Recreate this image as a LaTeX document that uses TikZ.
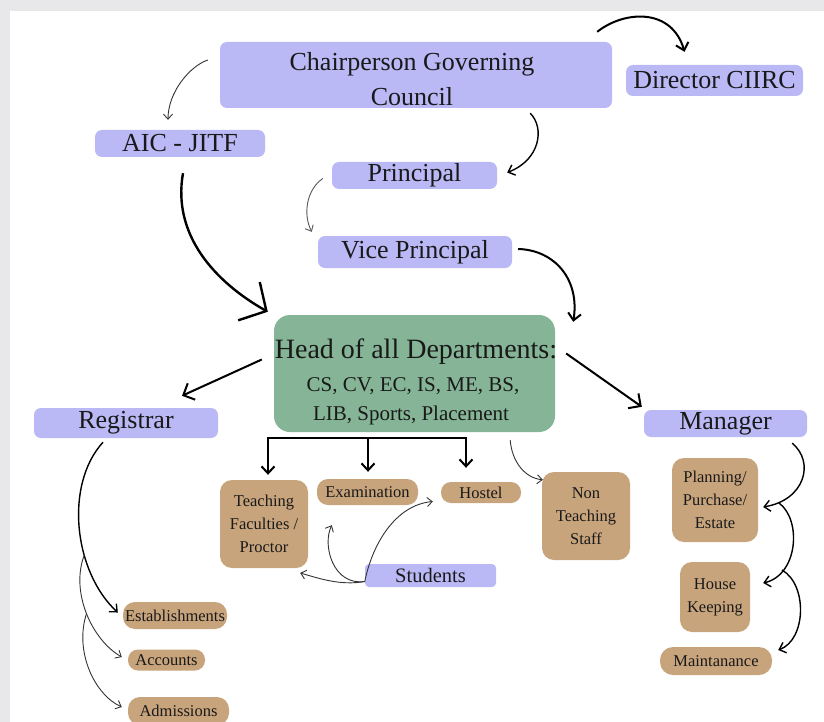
\documentclass[tikz,border=0pt]{standalone}
\usepackage{fontspec}
\setmainfont{Liberation Serif}
\usetikzlibrary{arrows.meta,calc}
\definecolor{lav}{RGB}{186,184,245}
\definecolor{grn}{RGB}{133,181,150}
\definecolor{tanc}{RGB}{200,164,124}
\definecolor{bggray}{RGB}{232,232,234}
\definecolor{ink}{RGB}{25,25,25}
\begin{document}
\begin{tikzpicture}[x=1pt,y=-1pt,
  lbox/.style={fill=lav, rounded corners=7pt, inner sep=0pt, text=ink, align=center,
    font=\fontsize{26}{35}\selectfont},
  tbox/.style={fill=tanc, rounded corners=12pt, inner sep=0pt, text=ink, align=center,
    font=\fontsize{16.5}{23}\selectfont},
  gbox/.style={fill=grn, rounded corners=16pt, inner sep=0pt},
  htxt/.style={text=ink, inner sep=0pt, align=center},
  thk/.style={draw=black, line width=2pt, -{Straight Barb[length=7pt,width=13pt,line width=2pt]}},
  med/.style={draw=black, line width=1.4pt, -{Straight Barb[length=6pt,width=11pt,line width=1.4pt]}},
  thn/.style={draw=black!80, line width=0.9pt, -{Straight Barb[length=5pt,width=9pt,line width=0.9pt]}},
  big/.style={draw=black, line width=2.4pt, -{Straight Barb[length=20pt,width=44pt,line width=2.4pt]}},
  ]
\useasboundingbox (0,0) rectangle (824,722);
\fill[bggray] (0,0) rectangle (824,722);
\fill[white] (10,11) rectangle (824,722);
\clip (0,0) rectangle (824,722);

% nodes
\node[lbox, minimum width=392pt, minimum height=66pt] (chair) at (416,75) {};
\node[htxt, font=\fontsize{26}{35}\selectfont] (chairtxt) at (412,79) {Chairperson Governing\\Council};
\node[lbox, minimum width=177pt, minimum height=31pt] (dir) at (714.5,80.5) {Director CIIRC};
\node[lbox, minimum width=170pt, minimum height=27pt] (aic) at (180,143.5) {AIC - JITF};
\node[lbox, minimum width=165pt, minimum height=27pt] (prin) at (414.5,175.5) {Principal};
\node[lbox, minimum width=194pt, minimum height=32pt] (vice) at (415,252) {Vice Principal};
\node[gbox, minimum width=281pt, minimum height=117pt] (head) at (414.5,373.5) {};
\node[htxt, font=\fontsize{28}{34}\selectfont] (headl1) at (416,352) {Head of all Departments:};
\node[htxt, font=\fontsize{21}{26}\selectfont] (headl2) at (413,386) {CS, CV, EC, IS, ME, BS,};
\node[htxt, font=\fontsize{21}{26}\selectfont] (headl3) at (411,415) {LIB, Sports, Placement};
\node[lbox, minimum width=184pt, minimum height=30pt] (reg) at (126,423) {Registrar};
\node[lbox, minimum width=163pt, minimum height=27pt] (mgr) at (725.5,423.5) {Manager};
\node[tbox, minimum width=88pt, minimum height=88pt] (teach) at (264,524) {Teaching\\Faculties /\\Proctor};
\node[tbox, rounded corners=11pt, minimum width=101pt, minimum height=26pt] (exam) at (367.5,492) {Examination};
\node[tbox, rounded corners=10pt, minimum width=80pt, minimum height=21pt] (hostel) at (481,492.5) {Hostel};
\node[tbox, minimum width=88pt, minimum height=88pt] (nonteach) at (586,516) {Non\\Teaching\\Staff};
\node[lbox, rounded corners=4pt, minimum width=131pt, minimum height=23pt, font=\fontsize{20.5}{24}\selectfont] (students) at (430.5,575.5) {Students};
\node[tbox, minimum width=86pt, minimum height=84pt] (plan) at (715,500) {Planning/\\Purchase/\\Estate};
\node[tbox, minimum width=70pt, minimum height=70pt] (house) at (715,597) {House\\Keeping};
\node[tbox, rounded corners=13pt, minimum width=112pt, minimum height=28pt] (maint) at (716,661) {Maintanance};
\node[tbox, rounded corners=12pt, minimum width=104pt, minimum height=27pt] (estab) at (175,615.5) {Establishments};
\node[tbox, rounded corners=10pt, minimum width=77pt, minimum height=21pt] (acc) at (166.5,660) {Accounts};
\node[tbox, rounded corners=12pt, minimum width=101pt, minimum height=28pt] (adm) at (178.5,711) {Admissions};

% top connectors
\draw[thk] ($(chair.north east)+(-15,-10)$) .. controls (625,10) and (672,8) .. ($(dir.north)+(-30,-13)$);
\draw[thn] ($(chair.west)+(-12,-15)$) .. controls (190,66) and (168,92) .. ($(aic.north)+(-12,-10)$);
\draw[med] ($(chair.south east)+(-82,5)$) .. controls (545,128) and (540,160) .. ($(prin.east)+(10,-3)$);
\draw[thn, draw=black!65] ($(prin.west)+(-9,3)$) .. controls (306,190) and (303,215) .. ($(vice.north west)+(-6,-4)$);
\draw[big] ($(aic.south)+(3,16)$) .. controls (172,235) and (215,282) .. ($(head.north west)+(-6,-3)$);
\draw[thk] ($(vice.east)+(6,-3)$) .. controls (555,250) and (580,280) .. ($(head.north east)+(18,7)$);

% head to registrar / manager
\draw[thk, -{Straight Barb[length=9pt,width=18pt,line width=2pt]}] ($(head.west)+(-12,-14)$) -- ($(reg.north)+(56,-12)$);
\draw[thk, -{Straight Barb[length=9pt,width=18pt,line width=2pt]}] ($(head.east)+(11,-20)$) -- ($(mgr.north west)+(-2,-3)$);

% bracket to teaching/exam/hostel
\coordinate (bk) at (368,438);
\draw[line width=2pt] (268,438) -- (466,438);
\draw[thk] (bk) -- ($(exam.north)+(0.5,-7)$);
\draw[thk] (268,437) -- ($(teach.north)+(4,-5)$);
\draw[thk] (466,437) -- ($(hostel.north)+(-15,-14)$);
\draw[thn] ($(head.south east)+(-45,8)$) .. controls (512,462) and (525,478) .. ($(nonteach.north west)+(1,8)$);

% students
\coordinate (st) at ($(students.west)+(0,6)$);
\draw[thn] (st) .. controls (340,586) and (318,578) .. ($(teach.east)+(-8,49)$);
\draw[thn] (st) .. controls (333,586) and (322,545) .. ($(exam.south west)+(15,20)$);
\draw[thn] (st) .. controls (372,545) and (395,505) .. ($(hostel.west)+(-8,9)$);

% registrar branch
\draw[med] ($(reg.south)+(-23,4)$) .. controls (64,485) and (74,572) .. coordinate[pos=0.64] (br1) ($(estab.west)+(-5,-3)$);
\draw[thn] (br1) .. controls (70,592) and (92,640) .. coordinate[pos=0.5] (br2) ($(acc.west)+(-6,-3)$);
\draw[thn] (br2) .. controls (74,652) and (95,695) .. ($(adm.west)+(-6,-4)$);

% manager branch
\draw[med] ($(mgr.south east)+(-15,6)$) .. controls (815,462) and (805,500) .. ($(plan.east)+(5,7)$);
\coordinate (mb1) at (779,503);
\coordinate (mb2) at (782,570);
\draw[med] (mb1) .. controls (802,520) and (798,575) .. ($(house.east)+(13,-14)$);
\draw[med] (mb2) .. controls (808,585) and (806,640) .. ($(maint.east)+(6,-11)$);
\end{tikzpicture}
\end{document}
